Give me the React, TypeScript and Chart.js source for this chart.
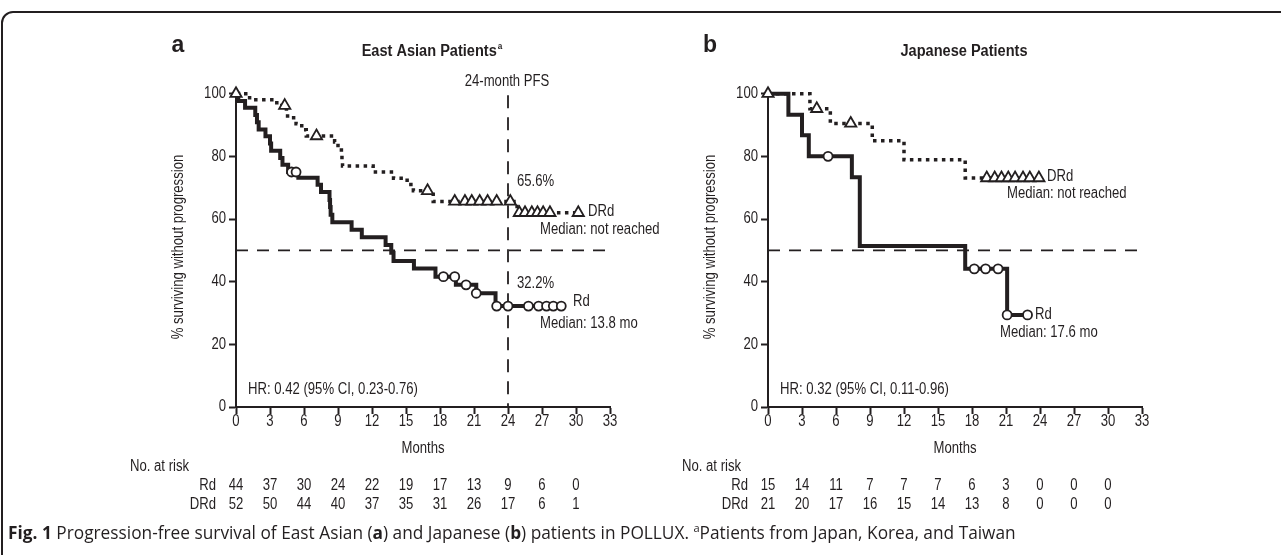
import React, { useEffect, useRef } from "react";
import { Chart, registerables } from "chart.js";
Chart.register(...registerables);

const FONT = '"Liberation Sans",Arial,sans-serif';
const SX = 0.82; // condensed look
const INK = "#231f20";

const xTickValues = [0, 3, 6, 9, 12, 15, 18, 21, 24, 27, 30, 33];
const yTickValues = [0, 20, 40, 60, 80, 100];
const riskMonths = [0, 3, 6, 9, 12, 15, 18, 21, 24, 27, 30];
const groupLabels = ["Rd", "DRd"];

// ---- East Asian patients ----
const eaRdTimes = [0, 0.2, 0.8, 1.7, 1.85, 2.0, 2.6, 3.0, 3.1, 3.9, 4.1, 4.6, 5.5, 7.2, 7.5, 8.25, 8.3, 8.35, 8.5, 10.2, 11.1, 13.2, 13.7, 13.9, 15.7, 17.6, 19.4, 21.2, 22.9, 28.8];
const eaRdSurv = [100, 97.7, 95.5, 93.2, 90.9, 88.6, 86.4, 84.1, 81.8, 79.5, 77.3, 75.0, 73.2, 70.9, 68.6, 66.1, 63.8, 61.4, 59.0, 56.6, 54.2, 51.7, 49.2, 46.6, 44.2, 41.6, 39.0, 36.3, 32.2, 32.2];
const eaRdCensorTimes = [4.9, 5.3, 18.3, 19.3, 20.3, 21.2, 23.0, 24.0, 25.8, 26.7, 27.4, 28.0, 28.7];
const eaRdCensorSurv = [75.0, 75.0, 41.6, 41.6, 39.0, 36.3, 32.2, 32.2, 32.2, 32.2, 32.2, 32.2, 32.2];

const eaDRdTimes = [0, 1.2, 3.6, 4.45, 4.55, 5.3, 5.8, 6.2, 8.7, 9.0, 9.3, 9.35, 9.4, 12.1, 13.9, 15.1, 15.65, 17.4, 24.8, 30.2];
const eaDRdSurv = [100, 98.1, 96.2, 94.2, 92.3, 90.4, 88.5, 86.5, 84.6, 82.7, 80.8, 78.8, 76.9, 75.0, 73.0, 71.0, 69.0, 65.6, 62.0, 62.0];
const eaDRdCensorTimes = [0, 4.3, 7.1, 16.9, 19.3, 20.2, 20.8, 21.5, 22.2, 23.0, 24.2, 25.0, 25.5, 26.1, 26.6, 27.1, 27.7, 30.2];
const eaDRdCensorSurv = [100, 96.2, 86.5, 69.0, 65.6, 65.6, 65.6, 65.6, 65.6, 65.6, 65.6, 62.0, 62.0, 62.0, 62.0, 62.0, 62.0, 62.0];

const eaRiskRd = [44, 37, 30, 24, 22, 19, 17, 13, 9, 6, 0];
const eaRiskDRd = [52, 50, 44, 40, 37, 35, 31, 26, 17, 6, 1];

// ---- Japanese patients ----
const jpRdTimes = [0, 1.8, 3.0, 3.6, 7.4, 8.1, 17.4, 21.1, 22.9];
const jpRdSurv = [100, 93.3, 86.7, 80.0, 73.3, 51.4, 44.1, 29.4, 29.4];
const jpRdCensorTimes = [5.3, 18.2, 19.2, 20.3, 21.1, 22.9];
const jpRdCensorSurv = [80.0, 44.1, 44.1, 44.1, 29.4, 29.4];

const jpDRdTimes = [0, 3.7, 5.5, 9.2, 12.0, 17.4, 23.9];
const jpDRdSurv = [100, 95.2, 90.5, 85.0, 78.9, 73.1, 73.1];
const jpDRdCensorTimes = [0, 4.3, 7.3, 19.3, 20.0, 20.6, 21.2, 21.8, 22.5, 23.1, 23.9];
const jpDRdCensorSurv = [100, 95.2, 90.5, 73.1, 73.1, 73.1, 73.1, 73.1, 73.1, 73.1, 73.1];

const jpRiskRd = [15, 14, 11, 7, 7, 7, 6, 3, 0, 0, 0];
const jpRiskDRd = [21, 20, 17, 16, 15, 14, 13, 8, 0, 0, 0];

const medianLine = 50;
const pfsMonth = 24;

type Pt = { x: number; y: number };
const pts = (t: number[], s: number[]): Pt[] => t.map((x, i) => ({ x, y: s[i] }));

interface Label { text: string; x: number; y: number; align: CanvasTextAlign }
interface Panel {
  padLeft: number; plotLeft: number; plotRight: number;
  letter: string; letterX: number; title: string; titleSup: string; titleX: number;
  yTitleX: number;
  rd: Pt[]; drd: Pt[]; rdCens: Pt[]; drdCens: Pt[];
  vline: boolean;
  labels: Label[];
  riskRd: number[]; riskDRd: number[];
  noRiskX: number; groupRightX: number;
}

const eastAsian: Panel = {
  padLeft: 0, plotLeft: 236, plotRight: 610,
  letter: "a", letterX: 178, title: "East Asian Patients", titleSup: "a", titleX: 432,
  yTitleX: 179,
  rd: pts(eaRdTimes, eaRdSurv), drd: pts(eaDRdTimes, eaDRdSurv),
  rdCens: pts(eaRdCensorTimes, eaRdCensorSurv), drdCens: pts(eaDRdCensorTimes, eaDRdCensorSurv),
  vline: true,
  labels: [
    { text: "24-month PFS", x: 507, y: 82, align: "center" },
    { text: "65.6%", x: 517, y: 182, align: "left" },
    { text: "32.2%", x: 517, y: 284, align: "left" },
    { text: "DRd", x: 588, y: 212, align: "left" },
    { text: "Median: not reached", x: 540, y: 230, align: "left" },
    { text: "Rd", x: 573, y: 302, align: "left" },
    { text: "Median: 13.8 mo", x: 540, y: 324, align: "left" },
    { text: "HR: 0.42 (95% CI, 0.23-0.76)", x: 248, y: 390, align: "left" },
  ],
  riskRd: eaRiskRd, riskDRd: eaRiskDRd,
  noRiskX: 130, groupRightX: 216,
};

const japanese: Panel = {
  padLeft: 640, plotLeft: 768, plotRight: 1142,
  letter: "b", letterX: 710, title: "Japanese Patients", titleSup: "", titleX: 964,
  yTitleX: 711,
  rd: pts(jpRdTimes, jpRdSurv), drd: pts(jpDRdTimes, jpDRdSurv),
  rdCens: pts(jpRdCensorTimes, jpRdCensorSurv), drdCens: pts(jpDRdCensorTimes, jpDRdCensorSurv),
  vline: false,
  labels: [
    { text: "DRd", x: 1047, y: 177, align: "left" },
    { text: "Median: not reached", x: 1007, y: 194, align: "left" },
    { text: "Rd", x: 1035, y: 315, align: "left" },
    { text: "Median: 17.6 mo", x: 1000, y: 333, align: "left" },
    { text: "HR: 0.32 (95% CI, 0.11-0.96)", x: 780, y: 390, align: "left" },
  ],
  riskRd: jpRiskRd, riskDRd: jpRiskDRd,
  noRiskX: 682, groupRightX: 748,
};

const W = 1281;
const H = 555;

function txt(ctx: CanvasRenderingContext2D, s: string, x: number, y: number, align: CanvasTextAlign, size = 16, bold = false, sx = SX) {
  ctx.save();
  ctx.translate(x, y);
  ctx.scale(sx, 1);
  ctx.font = `${bold ? "bold " : ""}${size}px ${FONT}`;
  ctx.textAlign = align;
  ctx.textBaseline = "middle";
  ctx.fillStyle = INK;
  ctx.fillText(s, 0, 0);
  ctx.restore();
}

function makeChart(canvas: HTMLCanvasElement, p: Panel) {
  const TOP = 89;
  const BOTTOM = 407;
  const XH = 40;

  const datasets: any[] = [
    {
      data: p.drdCens, showLine: false, pointStyle: "triangle", pointRadius: 6.5,
      pointBorderWidth: 1.8, pointBackgroundColor: "#fff", pointBorderColor: INK, order: 0, clip: false,
    },
    {
      data: p.rdCens, showLine: false, pointStyle: "circle", pointRadius: 4.5,
      pointBorderWidth: 1.8, pointBackgroundColor: "#fff", pointBorderColor: INK, order: 0, clip: false,
    },
    {
      data: p.rd, stepped: "before", borderColor: INK, borderWidth: 4, pointRadius: 0,
      order: 1, clip: false, fill: false, borderCapStyle: "butt", borderJoinStyle: "miter",
    },
    {
      data: p.drd, stepped: "before", borderColor: INK, borderWidth: 3.5, borderDash: [3.5, 4.5],
      pointRadius: 0, order: 1, clip: false, fill: false, borderCapStyle: "butt",
    },
    {
      data: [{ x: 0, y: medianLine }, { x: 33, y: medianLine }], borderColor: INK, borderWidth: 1.8,
      borderDash: [12, 9], pointRadius: 0, order: 2, fill: false,
    },
  ];
  if (p.vline) {
    datasets.push({
      data: [{ x: pfsMonth, y: 99.5 }, { x: pfsMonth, y: 0 }], borderColor: INK, borderWidth: 1.8,
      borderDash: [13, 9], pointRadius: 0, order: 2, fill: false,
    });
  }

  const textPlugin = {
    id: "panelText",
    afterDraw(chart: any) {
      const ctx: CanvasRenderingContext2D = chart.ctx;
      const xs = chart.scales.x;
      const ys = chart.scales.y;

      // tick labels
      xTickValues.forEach((v) => txt(ctx, String(v), xs.getPixelForValue(v), 422, "center"));
      yTickValues.forEach((v) => txt(ctx, String(v), xs.left - 10, ys.getPixelForValue(v), "right"));

      // panel letter
      txt(ctx, p.letter, p.letterX, 46, "center", 23, true, 1);

      // title
      ctx.save();
      ctx.font = `bold 16px ${FONT}`;
      const w = ctx.measureText(p.title).width * 0.91;
      ctx.font = `bold 9px ${FONT}`;
      const ws = p.titleSup ? ctx.measureText(p.titleSup).width * 0.91 + 1 : 0;
      ctx.restore();
      const start = p.titleX - (w + ws) / 2;
      txt(ctx, p.title, start, 52, "left", 16, true, 0.91);
      if (p.titleSup) txt(ctx, p.titleSup, start + w + 1, 47, "left", 9, true, 0.91);

      // annotations
      for (const l of p.labels) txt(ctx, l.text, l.x, l.y, l.align);

      // y title
      ctx.save();
      ctx.translate(p.yTitleX, 247);
      ctx.rotate(-Math.PI / 2);
      txt(ctx, "% surviving without progression", 0, 0, "center");
      ctx.restore();

      // x title
      txt(ctx, "Months", (chart.chartArea.left + chart.chartArea.right) / 2, 449, "center");

      // risk table
      txt(ctx, "No. at risk", p.noRiskX, 467, "left");
      txt(ctx, groupLabels[0], p.groupRightX, 486, "right");
      txt(ctx, groupLabels[1], p.groupRightX, 505, "right");
      riskMonths.forEach((m, i) => {
        const px = xs.getPixelForValue(m);
        txt(ctx, String(p.riskRd[i]), px, 486, "center");
        txt(ctx, String(p.riskDRd[i]), px, 505, "center");
      });
    },
  };

  return new Chart(canvas, {
    type: "line",
    data: { datasets },
    plugins: [textPlugin],
    options: {
      responsive: false,
      animation: false,
      events: [],
      layout: { padding: { left: p.padLeft, right: W - p.plotRight, top: TOP, bottom: H - BOTTOM - XH } },
      plugins: { legend: { display: false }, tooltip: { enabled: false }, title: { display: false } },
      scales: {
        x: {
          type: "linear", min: 0, max: 33,
          afterBuildTicks: (s: any) => { s.ticks = xTickValues.map((v) => ({ value: v })); },
          afterFit: (s: any) => { s.height = XH; },
          ticks: { display: false, autoSkip: false },
          grid: { drawOnChartArea: false, drawTicks: true, tickLength: 7, tickWidth: 2, tickColor: INK },
          border: { display: true, color: INK, width: 2 },
        },
        y: {
          type: "linear", min: 0, max: 101.5,
          afterBuildTicks: (s: any) => { s.ticks = yTickValues.map((v) => ({ value: v })); },
          afterFit: (s: any) => { s.width = p.plotLeft - p.padLeft; },
          ticks: { display: false, autoSkip: false },
          grid: { drawOnChartArea: false, drawTicks: true, tickLength: 7, tickWidth: 2, tickColor: INK },
          border: { display: true, color: INK, width: 2 },
        },
      },
    } as any,
  });
}

export default function App() {
  const lRef = useRef<HTMLCanvasElement>(null);
  const rRef = useRef<HTMLCanvasElement>(null);
  useEffect(() => {
    const c1 = makeChart(lRef.current!, eastAsian);
    const c2 = makeChart(rRef.current!, japanese);
    return () => { c1.destroy(); c2.destroy(); };
  }, []);
  return (
    <div style={{ position: "fixed", left: 0, top: 0, width: W, height: H, overflow: "hidden", background: "#fff" }}>
      <div style={{ position: "absolute", left: 1, top: 11, width: 1320, height: 620, border: `2px solid ${INK}`, borderRadius: 12, boxSizing: "border-box" }} />
      <canvas ref={lRef} width={W} height={H} style={{ position: "absolute", left: 0, top: 0 }} />
      <canvas ref={rRef} width={W} height={H} style={{ position: "absolute", left: 0, top: 0 }} />
      <div style={{ position: "absolute", left: 8, top: 522, font: '17.3px "Open Sans", sans-serif', lineHeight: "22px", color: INK, whiteSpace: "nowrap" }}>
        <b>Fig. 1</b> Progression-free survival of East Asian (<b>a</b>) and Japanese (<b>b</b>) patients in POLLUX. <sup style={{ fontSize: 11, lineHeight: 0 }}>a</sup>Patients from Japan, Korea, and Taiwan
      </div>
    </div>
  );
}
